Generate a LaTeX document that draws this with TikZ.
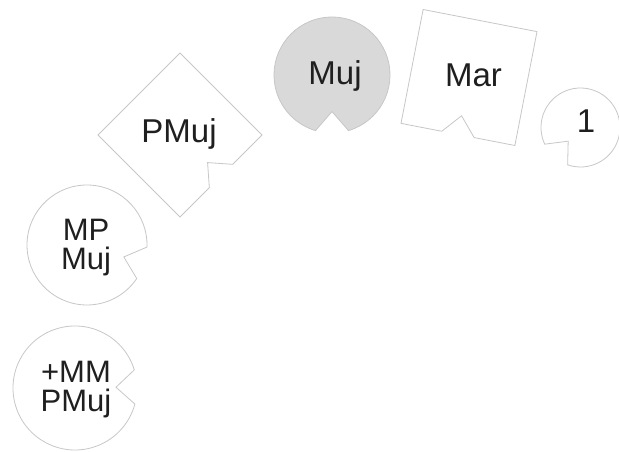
\documentclass[tikz,border=0pt]{standalone}
\usepackage{fontspec}
\setmainfont{Liberation Sans}
\begin{document}
\begin{tikzpicture}[x=1pt, y=1pt,
  piece/.style={draw=black!22, line width=0.8pt, fill=white},
  txt/.style={text=black!88, font=\fontsize{33}{36}\selectfont, inner sep=0pt, anchor=base},
  txttwo/.style={text=black!88, font=\fontsize{31}{29}\selectfont, inner sep=0pt, align=center}]
  \useasboundingbox (0,0) rectangle (619,452);
  % square pieces
  \draw[piece, shift={(180,317)}, rotate=45] (-58,-58) -- (-16.5,-58) -- (0,-39) -- (16.5,-58) -- (58,-58) -- (58,58) -- (-58,58) -- cycle;
  \draw[piece, shift={(469,374.5)}, rotate=-11] (-58,-58) -- (-16.5,-58) -- (0,-39) -- (16.5,-58) -- (58,-58) -- (58,58) -- (-58,58) -- cycle;
  % round pieces
  \draw[piece, fill=black!15, shift={(332,377)}] (-73.5:58) arc[start angle=-73.5, end angle=253.5, radius=58] -- (270:36.6) -- cycle;
  \draw[piece, shift={(580.5,324.5)}] (251:39.5) arc[start angle=251, end angle=565, radius=39.5] -- (228:18.4) -- cycle;
  \draw[piece, shift={(87,207)}] (-2:60) arc[start angle=-2, end angle=326, radius=60] -- (-18:38.7) -- cycle;
  \draw[piece, shift={(75,64)}] (17:62) arc[start angle=17, end angle=345, radius=62] -- (1:41) -- cycle;
  % texts
  \node[txt] (pmuj) at (179,309) {PMuj};
  \node[txt] (muj) at (335,367) {Muj};
  \node[txt] (mar) at (473.5,365) {Mar};
  \node[txt] (one) at (586,319) {1};
  \node[txttwo] (mpmuj) at (86,204) {MP\\Muj};
  \node[txttwo] (mmpmuj) at (76,62) {+MM\\PMuj};
\end{tikzpicture}
\end{document}
